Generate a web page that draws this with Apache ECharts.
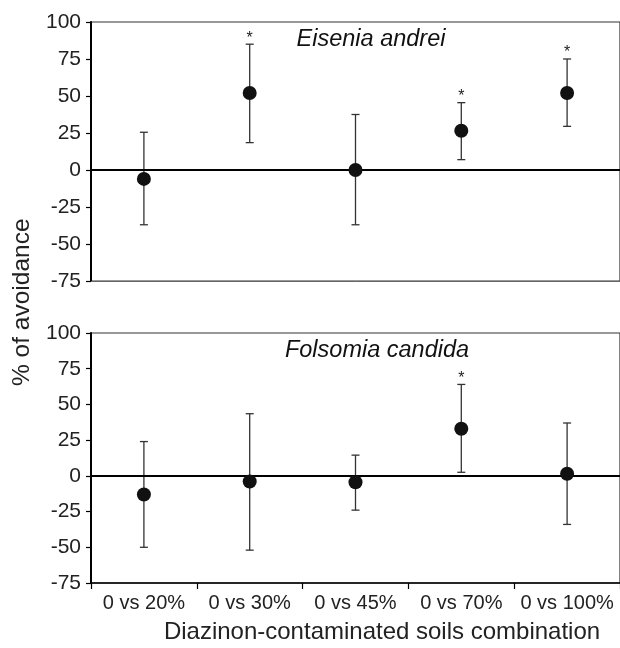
<!DOCTYPE html>
<html>
<head>
<meta charset="utf-8">
<script src="https://cdn.jsdelivr.net/npm/echarts@6/dist/echarts.min.js"></script>
<style>
html,body{margin:0;padding:0;background:#fff;}
#chart{width:620px;height:648px;}
</style>
</head>
<body>
<div id="chart"></div>
<script>
const categories = ['0 vs 20%', '0 vs 30%', '0 vs 45%', '0 vs 70%', '0 vs 100%'];
const yTicks = [-75, -50, -25, 0, 25, 50, 75, 100];

const eiseniaMean  = [-6, 52, 0, 26.5, 52];
const eiseniaUpper = [25.5, 85, 37.5, 45.5, 75];
const eiseniaLower = [-37, 18.5, -37, 7, 29.5];
const eiseniaSig   = [0, 1, 0, 1, 1];

const folsomiaMean  = [-13, -4, -4.5, 33, 1.5];
const folsomiaUpper = [24, 43.5, 14.5, 64, 37];
const folsomiaLower = [-50, -52, -24, 2.5, -34];
const folsomiaSig   = [0, 0, 0, 1, 0];

const FONT = '"Liberation Sans", Arial, Helvetica, sans-serif';

function errData(lower, upper, sig) {
  return categories.map((c, i) => [i, lower[i], upper[i], sig[i]]);
}
function meanData(mean) {
  return categories.map((c, i) => [i, mean[i]]);
}
function renderErr(params, api) {
  const idx = api.value(0);
  const lo = api.coord([idx, api.value(1)]);
  const hi = api.coord([idx, api.value(2)]);
  const half = 4;
  const style = { stroke: '#333', lineWidth: 1.3 };
  const children = [
    { type: 'line', shape: { x1: hi[0], y1: hi[1], x2: lo[0], y2: lo[1] }, style: style },
    { type: 'line', shape: { x1: hi[0] - half, y1: hi[1], x2: hi[0] + half, y2: hi[1] }, style: style },
    { type: 'line', shape: { x1: lo[0] - half, y1: lo[1], x2: lo[0] + half, y2: lo[1] }, style: style }
  ];
  if (api.value(3)) {
    children.push({
      type: 'text',
      style: { text: '*', x: hi[0], y: hi[1] + 2, align: 'center', verticalAlign: 'bottom',
               font: '16px ' + FONT, fill: '#222' }
    });
  }
  return { type: 'group', children: children };
}

const yAxisCommon = {
  type: 'value', min: -75, max: 100, interval: 25,
  axisLine: { show: true, onZero: false, lineStyle: { color: '#000', width: 2 } },
  axisTick: { show: true, length: 5, lineStyle: { color: '#000', width: 1.2 } },
  axisLabel: { color: '#222', fontSize: 21, fontFamily: FONT, margin: 10,
               formatter: v => (yTicks.indexOf(v) >= 0 ? String(v) : '') },
  splitLine: { show: false }
};

const chart = echarts.init(document.getElementById('chart'), null, { renderer: 'canvas' });
chart.setOption({
  animation: false,
  backgroundColor: '#fff',
  grid: [
    { left: 91, right: -7, top: 22, height: 259, show: true, borderColor: '#333', borderWidth: 1.2, backgroundColor: 'transparent' },
    { left: 91, right: -7, top: 333, height: 250, show: true, borderColor: '#333', borderWidth: 1.2, backgroundColor: 'transparent' }
  ],
  xAxis: [
    { type: 'category', gridIndex: 0, data: categories, boundaryGap: true,
      axisLine: { show: true, onZero: false, lineStyle: { color: '#666', width: 1 } },
      axisTick: { show: false }, axisLabel: { show: false }, splitLine: { show: false } },
    { type: 'category', gridIndex: 1, data: categories, boundaryGap: true,
      axisLine: { show: true, onZero: false, lineStyle: { color: '#000', width: 1.5 } },
      axisTick: { show: true, interval: 0, length: 6, lineStyle: { color: '#000', width: 1.2 } },
      axisLabel: { color: '#222', fontSize: 20, fontFamily: FONT, margin: 10, interval: 0, hideOverlap: false },
      splitLine: { show: false } }
  ],
  yAxis: [
    Object.assign({ gridIndex: 0 }, yAxisCommon),
    Object.assign({ gridIndex: 1 }, yAxisCommon)
  ],
  graphic: [
    { type: 'text', rotation: Math.PI / 2, x: 10, y: 386, z: 100,
      style: { text: '% of avoidance', font: '24.5px ' + FONT, fill: '#222' } },
    { type: 'text', x: 382, y: 632,
      style: { text: 'Diazinon-contaminated soils combination', font: '24px ' + FONT, fill: '#222',
               align: 'center', verticalAlign: 'middle' } },
    { type: 'text', x: 371, y: 39,
      style: { text: 'Eisenia andrei', font: 'italic 23.5px ' + FONT, fill: '#111',
               align: 'center', verticalAlign: 'middle' } },
    { type: 'text', x: 377, y: 350,
      style: { text: 'Folsomia candida', font: 'italic 23.5px ' + FONT, fill: '#111',
               align: 'center', verticalAlign: 'middle' } }
  ],
  series: [
    { type: 'custom', xAxisIndex: 0, yAxisIndex: 0, data: errData(eiseniaLower, eiseniaUpper, eiseniaSig),
      renderItem: renderErr, z: 2,
      markLine: { silent: true, symbol: ['none', 'none'], label: { show: false },
                  lineStyle: { color: '#000', width: 2, type: 'solid' }, data: [{ yAxis: 0 }] } },
    { type: 'scatter', xAxisIndex: 0, yAxisIndex: 0, data: meanData(eiseniaMean),
      symbol: 'circle', symbolSize: 14, itemStyle: { color: '#111', opacity: 1 }, z: 5 },
    { type: 'custom', xAxisIndex: 1, yAxisIndex: 1, data: errData(folsomiaLower, folsomiaUpper, folsomiaSig),
      renderItem: renderErr, z: 2,
      markLine: { silent: true, symbol: ['none', 'none'], label: { show: false },
                  lineStyle: { color: '#000', width: 2, type: 'solid' }, data: [{ yAxis: 0 }] } },
    { type: 'scatter', xAxisIndex: 1, yAxisIndex: 1, data: meanData(folsomiaMean),
      symbol: 'circle', symbolSize: 14, itemStyle: { color: '#111', opacity: 1 }, z: 5 }
  ]
});
</script>
</body>
</html>
